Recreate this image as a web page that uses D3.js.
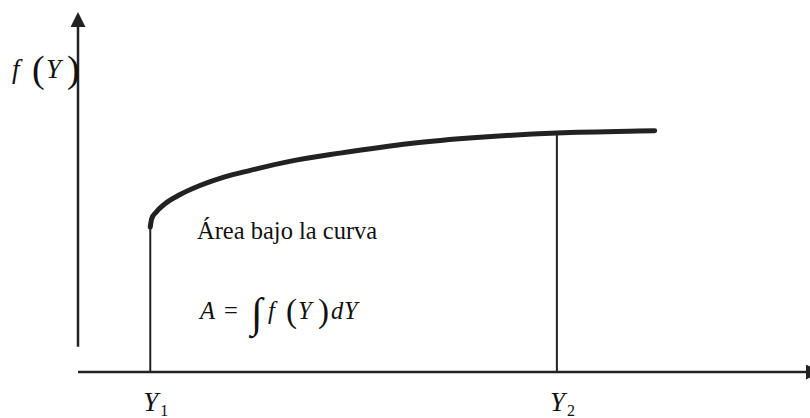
<!DOCTYPE html>
<html>
<head>
<meta charset="utf-8">
<script src="https://cdn.jsdelivr.net/npm/d3@7"></script>
<style>
  html, body { margin: 0; padding: 0; background: #fff; }
  svg { display: block; }
</style>
</head>
<body>
<svg id="chart" width="810" height="418"></svg>
<script>
// Curve f(Y): abscissa Y and ordinate f(Y) in arbitrary units
const curveY  = [9.9, 10.1, 10.7, 11.9, 14.0, 16.7, 20.1, 23.6, 29.0, 35.9, 45.5, 55.1, 65.6, 75.6, 79.0];
const curveFY = [40.3, 42.6, 44.4, 46.7, 49.3, 51.8, 54.2, 56.0, 58.5, 60.8, 63.5, 65.2, 66.4, 66.9, 67.0];

// Integration limits
const limitNames = ["1", "2"];
const limitY = [9.9, 65.6];
const limitFY = [40.3, 66.4];

const ink = "#222";
const serif = '"Liberation Serif", "Tinos", "Times New Roman", monospace';
const svg = d3.select("#chart");

const x = d3.scaleLinear().domain([0, 100]).range([78, 808]);
const y = d3.scaleLinear().domain([0, 100]).range([372, 12]);

// Arrow heads
const defs = svg.append("defs");
defs.append("marker")
  .attr("id", "arrow")
  .attr("viewBox", "0 0 10 10")
  .attr("refX", 0).attr("refY", 5)
  .attr("markerUnits", "userSpaceOnUse")
  .attr("markerWidth", 15).attr("markerHeight", 15)
  .attr("orient", "auto")
  .append("path")
  .attr("d", "M0,0 L10,5 L0,10 Z")
  .attr("fill", ink);

// Vertical axis
svg.append("line")
  .attr("x1", x(0)).attr("x2", x(0))
  .attr("y1", y(7)).attr("y2", y(100) + 15)
  .attr("stroke", ink).attr("stroke-width", 2.5)
  .attr("marker-end", "url(#arrow)");

// Horizontal axis
svg.append("line")
  .attr("x1", x(0)).attr("x2", x(100) - 2)
  .attr("y1", y(0)).attr("y2", y(0))
  .attr("stroke", ink).attr("stroke-width", 2.5)
  .attr("marker-end", "url(#arrow)");

// Limit lines Y1, Y2
svg.selectAll("line.limit")
  .data(limitY)
  .join("line")
  .attr("class", "limit")
  .attr("x1", d => x(d)).attr("x2", d => x(d))
  .attr("y1", y(0)).attr("y2", (d, i) => y(limitFY[i]))
  .attr("stroke", ink).attr("stroke-width", 2);

// The curve
const pts = curveY.map((v, i) => [v, curveFY[i]]);
svg.append("path")
  .datum(pts)
  .attr("fill", "none")
  .attr("stroke", ink)
  .attr("stroke-width", 5)
  .attr("stroke-linecap", "round")
  .attr("d", d3.line().x(d => x(d[0])).y(d => y(d[1])).curve(d3.curveMonotoneX));

function label(yPos) {
  return svg.append("text")
    .attr("y", yPos)
    .style("font-family", serif)
    .attr("fill", "#111");
}

// Ordinate label f(Y)
const fl = label(78);
fl.append("tspan").attr("x", 12).style("font-style", "italic").style("font-size", "27px").text("f");
fl.append("tspan").attr("x", 32).style("font-size", "38px").attr("dy", 4).text("(");
fl.append("tspan").attr("x", 46).style("font-style", "italic").style("font-size", "27px").attr("dy", -4).text("Y");
fl.append("tspan").attr("x", 67).style("font-size", "38px").attr("dy", 4).text(")");

// Limit labels
limitY.forEach((v, i) => {
  const t = label(411);
  t.append("tspan").attr("x", x(v) - 7).style("font-style", "italic").style("font-size", "27px").text("Y");
  t.append("tspan").attr("x", x(v) + 10).attr("dy", 5).style("font-size", "16px").text(limitNames[i]);
});

// Area caption
label(239)
  .attr("x", 197)
  .style("font-size", "24.5px")
  .text("Área bajo la curva");

// Integral formula
const fm = label(319).style("font-size", "24.5px");
fm.append("tspan").attr("x", 200).style("font-style", "italic").text("A");
fm.append("tspan").attr("x", 224).text("=");
fm.append("tspan").attr("x", 251).style("font-size", "42px").attr("dy", 8).text("∫");
fm.append("tspan").attr("x", 268).style("font-style", "italic").attr("dy", -8).text("f");
fm.append("tspan").attr("x", 286).style("font-size", "33px").attr("dy", 3).text("(");
fm.append("tspan").attr("x", 298).style("font-style", "italic").attr("dy", -3).text("Y");
fm.append("tspan").attr("x", 318).style("font-size", "33px").attr("dy", 3).text(")");
fm.append("tspan").attr("x", 331).style("font-style", "italic").attr("dy", -3).text("d");
fm.append("tspan").attr("x", 344).style("font-style", "italic").text("Y");
</script>
</body>
</html>
